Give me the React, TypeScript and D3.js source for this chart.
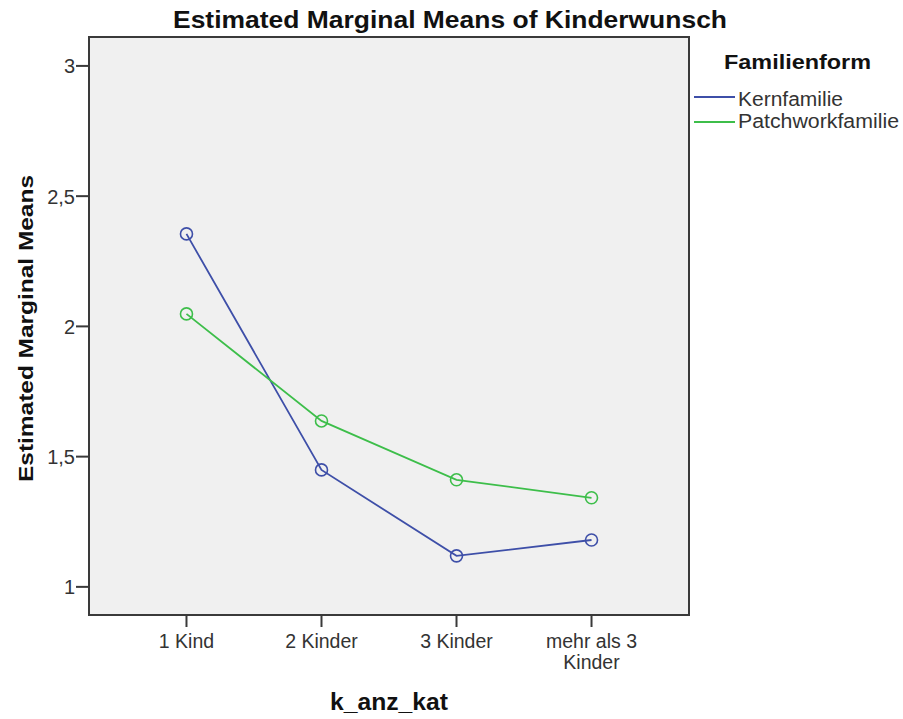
import React from "react";
import * as d3 from "d3";

const categories = ["1 Kind", "2 Kinder", "3 Kinder", "mehr als 3 Kinder"];
const categoryLines = [["1 Kind"], ["2 Kinder"], ["3 Kinder"], ["mehr als 3", "Kinder"]];
const seriesNames = ["Kernfamilie", "Patchworkfamilie"];
const kernfamilie = [2.355, 1.449, 1.119, 1.18];
const patchworkfamilie = [2.048, 1.637, 1.411, 1.342];
const yTicks = [1, 1.5, 2, 2.5, 3];
const yTickLabels = ["1", "1,5", "2", "2,5", "3"];
const colors = ["#3E4FA8", "#3DBE4A"];

export default function App() {
  const W = 903, H = 719;
  const L = 89, R = 689, T = 37, B = 615;
  const x = d3.scalePoint<string>().domain(categories).range([L, R]).padding(0.722);
  const y = d3.scaleLinear().domain([0.892, 3.111]).range([B, T]);
  const series = [kernfamilie, patchworkfamilie];
  const line = d3.line<number>().x((_, i) => x(categories[i])!).y((d) => y(d));
  const font = "'Liberation Sans', Arial, sans-serif";
  const legendW = [105, 161];
  return (
    <svg width={W} height={H} style={{ position: "absolute", left: 0, top: 0 }} fontFamily={font}>
      <rect x={0} y={0} width={W} height={H} fill="#fff" />
      <text x={173} y={28} fontWeight="bold" fontSize={24} textLength={554} lengthAdjust="spacingAndGlyphs" fill="#111">
        Estimated Marginal Means of Kinderwunsch
      </text>
      <rect x={L} y={T} width={R - L} height={B - T} fill="#f0f0f0" stroke="#3a3a3a" strokeWidth={2} />
      {yTicks.map((t, i) => (
        <g key={t}>
          <line x1={L - 13} x2={L} y1={y(t)} y2={y(t)} stroke="#3a3a3a" strokeWidth={2} />
          <text x={L - 14} y={y(t) + 7.5} textAnchor="end" fontSize={20} fill="#333">{yTickLabels[i]}</text>
        </g>
      ))}
      {categories.map((c, i) => (
        <g key={c}>
          <line x1={x(c)} x2={x(c)} y1={B} y2={B + 12} stroke="#3a3a3a" strokeWidth={2} />
          {categoryLines[i].map((ln, j) => (
            <text key={j} x={x(c)} y={648 + j * 21} textAnchor="middle" fontSize={19.5} fill="#333">{ln}</text>
          ))}
        </g>
      ))}
      <text x={330} y={710} fontWeight="bold" fontSize={23} textLength={118} lengthAdjust="spacingAndGlyphs" fill="#111">k_anz_kat</text>
      <text transform={`translate(33,482) rotate(-90)`} fontWeight="bold" fontSize={21} textLength={307} lengthAdjust="spacingAndGlyphs" fill="#111">
        Estimated Marginal Means
      </text>
      {series.map((s, k) => (
        <g key={k}>
          <path d={line(s)!} fill="none" stroke={colors[k]} strokeWidth={1.8} />
          {s.map((v, i) => (
            <circle key={i} cx={x(categories[i])} cy={y(v)} r={6} fill="none" stroke={colors[k]} strokeWidth={1.6} />
          ))}
        </g>
      ))}
      <text x={724} y={69} fontWeight="bold" fontSize={21} textLength={147} lengthAdjust="spacingAndGlyphs" fill="#111">Familienform</text>
      {seriesNames.map((n, k) => (
        <g key={n}>
          <line x1={694} x2={735} y1={97 + k * 25} y2={97 + k * 25} stroke={colors[k]} strokeWidth={2} />
          <text x={738} y={106 + k * 22} fontSize={20} textLength={legendW[k]} lengthAdjust="spacingAndGlyphs" fill="#333">{n}</text>
        </g>
      ))}
    </svg>
  );
}
